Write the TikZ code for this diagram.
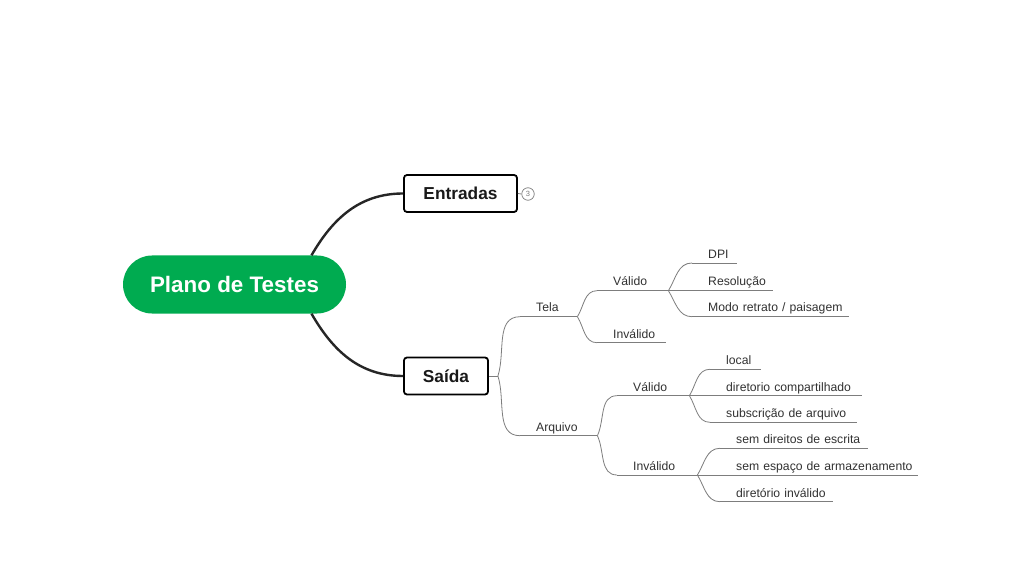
\documentclass[tikz,border=0pt]{standalone}
\usepackage{fontspec}
\setmainfont{Liberation Sans}
\usetikzlibrary{positioning}

\definecolor{mapgreen}{RGB}{0,171,80}
\definecolor{twiggray}{RGB}{125,125,125}
\definecolor{labelgray}{RGB}{50,50,50}

\tikzset{
  main/.style={fill=mapgreen, rounded corners=29pt, minimum width=223pt, minimum height=58pt,
    text=white, font=\fontsize{22.4}{25}\selectfont\bfseries},
  topic/.style={draw=black, line width=1.8pt, rounded corners=3pt, minimum height=37pt,
    text=black!90, font=\fontsize{17.3}{20}\selectfont\bfseries},
  badge/.style={circle, draw=twiggray, line width=0.7pt, inner sep=0pt, minimum size=12.5pt,
    text=twiggray, font=\fontsize{7.5}{7.5}\selectfont},
  trunk/.style={line width=2.4pt, draw=black!85},
  twig/.style={line width=0.8pt, draw=twiggray},
  leaf/.style={anchor=south west, inner xsep=0pt, inner ysep=4.5pt, text depth=0pt,
    align=left, text=labelgray, font=\fontsize{12.2}{14}\selectfont,
    execute at begin node={\hspace*{16pt}}}
}

\begin{document}
\begin{tikzpicture}[x=1pt,y=1pt]
\fill[white] (0,0) rectangle (1033,-569);
\useasboundingbox (0,0) rectangle (1033,-569);

% central topic and main branches
\node[main] (plano) at (234.5,-284.5) {Plano de Testes};
\node[topic, minimum width=113pt] (entradas) at (460.5,-193.5) {Entradas};
\node[topic, minimum width=84pt] (saida) at (446,-376) {Saída};
\node[badge] (count) at (528,-194) {3};

\draw[trunk] ([xshift=77pt]plano.north) to[out=60,in=180] (entradas.west);
\draw[trunk] ([xshift=77pt]plano.south) to[out=-60,in=180] (saida.west);
\draw[twig] (entradas.east) -- (count.west);

% Tela
\node[leaf, text width=57pt] (tela) at (520,-316.7) {Tela};
\node[leaf, text width=71pt] (tvalido) at (597,-290.7) {Válido};
\node[leaf, text width=69pt] (tinvalido) at (597,-342.7) {Inválido};
\node[leaf, text width=45pt] (dpi) at (692,-263) {DPI};
\node[leaf, text width=81pt] (resolucao) at (692,-290.7) {Resolução};
\node[leaf, text width=157pt] (modo) at (692,-316.7) {Modo retrato / paisagem};

% Arquivo
\node[leaf, text width=77pt] (arquivo) at (520,-435.7) {Arquivo};
\node[leaf, text width=72pt] (avalido) at (617,-395.7) {Válido};
\node[leaf, text width=80pt] (ainvalido) at (617,-475) {Inválido};
\node[leaf, text width=51pt] (local) at (710,-369.3) {local};
\node[leaf, text width=152pt] (dircomp) at (710,-395.7) {diretorio compartilhado};
\node[leaf, text width=147pt] (subscr) at (710,-422.3) {subscrição de arquivo};
\node[leaf, text width=148pt] (semdir) at (720,-448.3) {sem direitos de escrita};
\node[leaf, text width=198pt] (semesp) at (720,-475) {sem espaço de armazenamento};
\node[leaf, text width=113pt] (dirinv) at (720,-501.7) {diretório inválido};

% underlines
\foreach \n in {tela,tvalido,tinvalido,dpi,resolucao,modo,arquivo,avalido,ainvalido,
                local,dircomp,subscr,semdir,semesp,dirinv}
    \draw[twig] (\n.south west) -- (\n.south east);

% connectors
\draw[twig] (saida.east) -- ++(9,0) coordinate (fork);
\draw[twig] (fork) to[out=72,in=180] (tela.south west);
\draw[twig] (fork) to[out=-72,in=180] (arquivo.south west);

\draw[twig] (tela.south east) to[out=58,in=180] (tvalido.south west);
\draw[twig] (tela.south east) to[out=-58,in=180] (tinvalido.south west);
\draw[twig] (tvalido.south east) to[out=58,in=180] (dpi.south west);
\draw[twig] (tvalido.south east) -- (resolucao.south west);
\draw[twig] (tvalido.south east) to[out=-58,in=180] (modo.south west);

\draw[twig] (arquivo.south east) to[out=65,in=180] (avalido.south west);
\draw[twig] (arquivo.south east) to[out=-65,in=180] (ainvalido.south west);
\draw[twig] (avalido.south east) to[out=58,in=180] (local.south west);
\draw[twig] (avalido.south east) -- (dircomp.south west);
\draw[twig] (avalido.south east) to[out=-58,in=180] (subscr.south west);
\draw[twig] (ainvalido.south east) to[out=58,in=180] (semdir.south west);
\draw[twig] (ainvalido.south east) -- (semesp.south west);
\draw[twig] (ainvalido.south east) to[out=-58,in=180] (dirinv.south west);
\end{tikzpicture}
\end{document}
